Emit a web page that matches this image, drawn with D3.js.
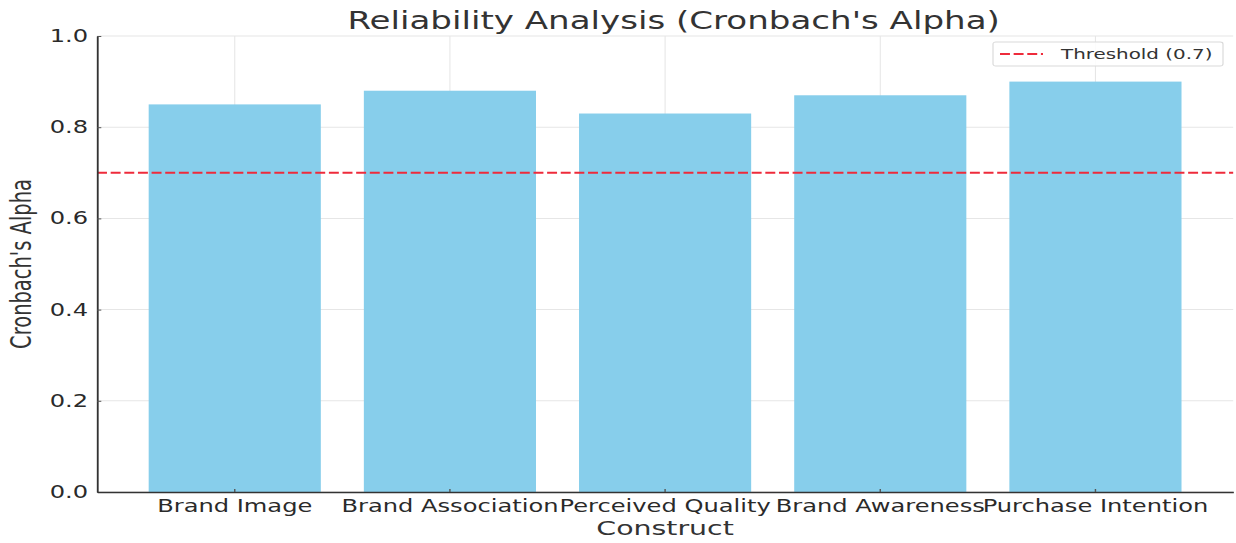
<!DOCTYPE html>
<html>
<head>
<meta charset="utf-8">
<script src="https://cdn.jsdelivr.net/npm/d3@7"></script>
<style>
  html, body { margin: 0; padding: 0; background: #fff; }
  text { font-family: "DejaVu Sans", sans-serif; }
</style>
</head>
<body>
<div id="chart"></div>
<script>
// chart data
var constructs = ["Brand Image", "Brand Association", "Perceived Quality", "Brand Awareness", "Purchase Intention"];
var alphas = [0.85, 0.88, 0.83, 0.87, 0.90];
var threshold = 0.7;
var yTicks = [0.0, 0.2, 0.4, 0.6, 0.8, 1.0];

var titleText = "Reliability Analysis (Cronbach's Alpha)";
var xAxisName = "Construct";
var yAxisName = "Cronbach's Alpha";
var legendText = "Threshold (0.7)";

// the reference picture is stretched sideways, so draw in a narrower box and stretch it
var svgWidth = 1236;
var svgHeight = 543;
var stretch = 1.4207;
var innerW = svgWidth / stretch;

var margin = {
    top: 36,
    right: 2,
    left: 68.3,
    bottom: 51
};

var chartWidth = innerW - margin.left - margin.right;
var chartHeight = svgHeight - margin.top - margin.bottom;

var svg = d3.select("#chart")
    .append("svg")
    .attr("width", svgWidth)
    .attr("height", svgHeight)
    .attr("viewBox", `0 0 ${innerW} ${svgHeight}`)
    .attr("preserveAspectRatio", "none");

var canvas = svg.append("g")
    .attr("transform", `translate(${margin.left}, ${margin.top})`);

var xScale = d3.scaleBand()
    .domain(constructs)
    .range([0, chartWidth])
    .paddingInner(0.2)
    .paddingOuter(0.24);

var yScale = d3.scaleLinear()
    .domain([0, 1])
    .range([chartHeight, 0]);

// grid lines
canvas.append("g")
    .selectAll("line")
    .data(yTicks)
    .enter()
    .append("line")
    .attr("x1", 0)
    .attr("x2", chartWidth)
    .attr("y1", d => yScale(d))
    .attr("y2", d => yScale(d))
    .attr("stroke", "#e6e6e6")
    .attr("stroke-width", 1);

canvas.append("g")
    .selectAll("line")
    .data(constructs)
    .enter()
    .append("line")
    .attr("x1", d => xScale(d) + xScale.bandwidth() / 2)
    .attr("x2", d => xScale(d) + xScale.bandwidth() / 2)
    .attr("y1", 0)
    .attr("y2", chartHeight)
    .attr("stroke", "#e6e6e6")
    .attr("stroke-width", 0.75);

// bars
canvas.append("g")
    .selectAll("rect")
    .data(constructs)
    .enter()
    .append("rect")
    .attr("x", d => xScale(d))
    .attr("y", (d, i) => yScale(alphas[i]))
    .attr("width", xScale.bandwidth())
    .attr("height", (d, i) => chartHeight - yScale(alphas[i]))
    .attr("fill", "#87ceeb");

// threshold line
canvas.append("line")
    .attr("x1", 0)
    .attr("x2", chartWidth)
    .attr("y1", yScale(threshold))
    .attr("y2", yScale(threshold))
    .attr("stroke", "#ee2b3b")
    .attr("stroke-width", 2)
    .attr("stroke-dasharray", "7,2.6");

// axes
var yAxis = d3.axisLeft(yScale)
    .tickValues(yTicks)
    .tickFormat(d3.format(".1f"))
    .tickSizeInner(-3)
    .tickSizeOuter(0)
    .tickPadding(6.3);

var yG = canvas.append("g").call(yAxis);

var xAxis = d3.axisBottom(xScale)
    .tickSizeInner(-3)
    .tickSizeOuter(0)
    .tickPadding(7.5);

var xG = canvas.append("g")
    .attr("transform", `translate(0, ${chartHeight})`)
    .call(xAxis);

[yG, xG].forEach(g => {
    g.select(".domain").attr("stroke", "#333").attr("stroke-width", 1.3);
    g.selectAll(".tick line").attr("stroke", "#555");
    g.selectAll(".tick text")
        .attr("fill", "#2a2a2a")
        .style("font-size", "17px")
        .style("font-family", "DejaVu Sans");
});

// title
svg.append("text")
    .attr("x", margin.left + chartWidth / 2 + 6)
    .attr("y", 29)
    .attr("text-anchor", "middle")
    .attr("fill", "#333")
    .style("font-size", "24px")
    .text(titleText);

// x axis label
svg.append("text")
    .attr("x", margin.left + chartWidth / 2)
    .attr("y", 535)
    .attr("text-anchor", "middle")
    .attr("fill", "#333")
    .style("font-size", "20px")
    .text(xAxisName);

// y axis label, rotated
svg.append("text")
    .attr("transform", `translate(22, ${margin.top + chartHeight / 2}) rotate(-90)`)
    .attr("text-anchor", "middle")
    .attr("fill", "#333")
    .style("font-size", "19.5px")
    .text(yAxisName);

// legend
var legend = svg.append("g")
    .attr("transform", `translate(${993 / stretch}, 42)`);

legend.append("rect")
    .attr("width", 230 / stretch)
    .attr("height", 24)
    .attr("rx", 2)
    .attr("fill", "#fff")
    .attr("fill-opacity", 0.85)
    .attr("stroke", "#d9d9d9")
    .attr("stroke-width", 0.8);

legend.append("line")
    .attr("x1", 7 / stretch)
    .attr("x2", 50 / stretch)
    .attr("y1", 12)
    .attr("y2", 12)
    .attr("stroke", "#ee2b3b")
    .attr("stroke-width", 2)
    .attr("stroke-dasharray", "7,2.6");

legend.append("text")
    .attr("x", 68 / stretch)
    .attr("y", 17)
    .attr("fill", "#333")
    .style("font-size", "14px")
    .text(legendText);
</script>
</body>
</html>
